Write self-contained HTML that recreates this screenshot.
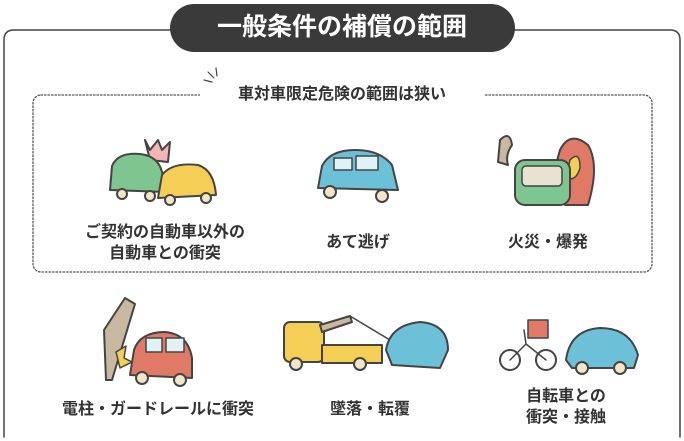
<!DOCTYPE html>
<html><head><meta charset="utf-8"><style>
body{margin:0;background:#fff;width:684px;height:441px;overflow:hidden;position:relative;font-family:"Liberation Sans","Noto Sans CJK JP",sans-serif;}
.t{position:absolute;color:#333;font-weight:bold;font-size:16px;text-align:center;white-space:nowrap;line-height:21px;transform:translateX(-50%);}
</style></head><body>
<svg width="684" height="441" style="position:absolute;left:0;top:0" stroke-linejoin="round" stroke-linecap="round">
<path d="M4 437 L4 40 Q4 30 14 30 L670 30 Q680 30 680 40 L680 437" fill="none" stroke="#444" stroke-width="1.5"/>
<rect x="170" y="4" width="345" height="48" rx="24" fill="#3a3a3a"/>
<rect x="33" y="95" width="619" height="177" rx="8" fill="none" stroke="#555" stroke-width="1.3" stroke-dasharray="1.5 2"/>
<rect x="200" y="85" width="284" height="20" fill="#fff"/>
<path d="M208 72 L214 78 M204 80 L212 82 M216 68 L217 76" stroke="#444" stroke-width="1.2"/>
<g stroke="#444" stroke-width="2">
<path d="M145 140 L150 150 L158 140 L162 150 L170 142 L168 162 L150 160Z" fill="#f2b6b6"/>
<path d="M110 190 L112 166 Q118 152 140 154 Q158 156 162 172 L166 192Z" fill="#7fc590"/>
<path d="M158 198 L162 175 Q172 162 198 165 Q214 170 216 195Z" fill="#f5cf55"/>
<circle cx="122" cy="194" r="5" fill="#f3e6c6"/><circle cx="150" cy="196" r="5" fill="#f3e6c6"/>
<circle cx="170" cy="200" r="5" fill="#f3e6c6"/><circle cx="206" cy="198" r="5" fill="#f3e6c6"/>
<path d="M318 188 L322 166 Q330 150 355 150 Q380 150 392 165 L398 190 Z" fill="#6cc0d8"/>
<rect x="334" y="158" width="18" height="12" fill="#dff2f6" stroke-width="1.5"/><rect x="356" y="156" width="22" height="14" fill="#dff2f6" stroke-width="1.5"/>
<circle cx="330" cy="192" r="6" fill="#f3e6c6"/><circle cx="382" cy="196" r="6" fill="#f3e6c6"/>
<path d="M560 150 Q570 130 588 145 Q600 165 588 205 L565 205 Q550 180 560 150Z" fill="#e07a66"/>
<path d="M570 160 Q580 150 580 168 Q576 182 566 178Z" fill="#f5cf55" stroke-width="1.5"/>
<path d="M500 140 Q510 130 512 145 Q505 155 508 165 L498 162Z" fill="#c9b8a0"/>
<rect x="515" y="160" width="55" height="45" rx="10" fill="#7fc590"/>
<rect x="522" y="166" width="40" height="20" rx="4" fill="#e8e2d2" stroke-width="1.5"/>
<path d="M104 330 L125 298 L135 304 L112 380 L106 380Z" fill="#c9b8a0"/>
<path d="M130 375 L134 350 Q140 332 165 332 Q188 334 192 358 L192 378Z" fill="#e07a66"/>
<rect x="146" y="338" width="16" height="14" fill="#dff2f6" stroke-width="1.5"/><rect x="166" y="338" width="18" height="14" fill="#dff2f6" stroke-width="1.5"/>
<path d="M116 352 L126 346 L124 358 L132 362 L120 368Z" fill="#f5cf55" stroke-width="1.5"/>
<circle cx="142" cy="378" r="6" fill="#f3e6c6"/><circle cx="180" cy="380" r="6" fill="#f3e6c6"/>
<rect x="284" y="322" width="40" height="40" rx="6" fill="#f5cf55"/>
<rect x="322" y="345" width="60" height="18" fill="#f5cf55"/>
<path d="M320 325 L350 316 L352 322 L322 332Z" fill="#c9b8a0"/><path d="M350 316 L390 340" fill="none" stroke-width="1.5"/>
<circle cx="296" cy="364" r="6" fill="#f3e6c6"/><circle cx="360" cy="364" r="6" fill="#f3e6c6"/>
<path d="M386 350 Q390 325 420 322 Q448 324 448 350 L440 368 L392 365Z" fill="#6cc0d8"/>
<circle cx="510" cy="360" r="10" fill="none"/><circle cx="546" cy="360" r="10" fill="none"/>
<path d="M510 360 L526 344 L546 360 M524 330 L526 344" fill="none" stroke-width="1.5"/>
<rect x="528" y="320" width="20" height="18" fill="#e07a66" stroke-width="1.5"/>
<path d="M566 360 Q570 330 600 328 Q630 328 638 355 L634 368 L572 368Z" fill="#6cc0d8"/>
<circle cx="582" cy="368" r="6" fill="#f3e6c6"/><circle cx="620" cy="368" r="6" fill="#f3e6c6"/>
</g>
</svg>
<div class="t" style="left:342px;top:12px;color:#fff;font-size:25px;line-height:30px;">一般条件の補償の範囲</div>
<div class="t" style="left:342px;top:84px;font-size:16px;">車対車限定危険の範囲は狭い</div>
<div class="t" style="left:165px;top:222px;">ご契約の自動車以外の<br>自動車との衝突</div>
<div class="t" style="left:358px;top:232px;">あて逃げ</div>
<div class="t" style="left:548px;top:232px;">火災・爆発</div>
<div class="t" style="left:158px;top:399px;">電柱・ガードレールに衝突</div>
<div class="t" style="left:370px;top:399px;">墜落・転覆</div>
<div class="t" style="left:566px;top:386px;">自転車との<br>衝突・接触</div>
</body></html>
